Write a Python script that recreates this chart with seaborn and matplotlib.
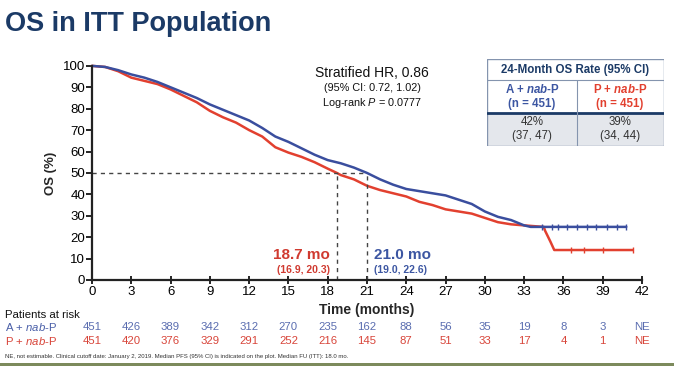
import numpy as np
import pandas as pd
import matplotlib
matplotlib.use("Agg")
import matplotlib.pyplot as plt
import matplotlib.transforms as mtransforms
from matplotlib.patches import Rectangle
import seaborn as sns

sns.set_theme(style="white")
plt.rcParams['font.family'] = ['Liberation Sans', 'DejaVu Sans']
plt.rcParams['mathtext.fontset'] = 'custom'
plt.rcParams['mathtext.rm'] = 'Liberation Sans'
plt.rcParams['mathtext.it'] = 'Liberation Sans:italic'
plt.rcParams['mathtext.bf'] = 'Liberation Sans:bold'
plt.rcParams['mathtext.bfit'] = 'Liberation Sans:italic:bold'

# KM curves (months, OS %)
a_time = [0, 1, 2, 3, 4, 5, 6, 7, 8, 9, 10, 11, 12, 13, 14, 15, 16, 17, 18, 19,
          20, 21, 22, 23, 24, 25, 26, 27, 28, 29, 30, 31, 32, 33, 33.5, 40.8]
a_os = [100, 99.5, 98, 96, 94.5, 92.5, 90, 87.5, 85, 82, 79.5, 77, 74.5, 71, 67, 64.5,
        61.5, 58.5, 56, 54.5, 52.5, 50, 47, 44.5, 42.5, 41.5, 40.5, 39.5, 37.5, 35.5,
        32, 29.5, 28, 25.5, 24.8, 24.8]
p_time = [0, 1, 2, 3, 4, 5, 6, 7, 8, 9, 10, 11, 12, 13, 14, 15, 16, 17, 18, 18.7,
          19, 20, 21, 22, 23, 24, 25, 26, 27, 28, 29, 30, 31, 32, 33, 34.5, 34.6,
          35.0, 35.3, 41.3]
p_os = [100, 99.5, 97.5, 94.5, 93, 91.5, 89, 86, 83, 79, 76, 73.5, 70, 67, 62, 59.5,
        57.5, 55, 52, 50, 49, 47, 44, 42, 40.5, 39, 36.5, 35, 33, 32, 31, 29, 27, 26,
        25.5, 24.8, 23, 18, 14, 14]

# censor marks on the tails
a_cens_t = [34.4, 35.1, 35.6, 36.3, 37.0, 37.8, 38.5, 39.3, 40.1, 40.8]
a_cens_s = [24.8] * len(a_cens_t)
p_cens_t = [36.6, 37.6, 39.0, 41.3]
p_cens_s = [14] * len(p_cens_t)

medians = {'P': 18.7, 'A': 21.0}

risk_times = [0, 3, 6, 9, 12, 15, 18, 21, 24, 27, 30, 33, 36, 39, 42]
risk_a = ['451', '426', '389', '342', '312', '270', '235', '162', '88', '56', '35', '19', '8', '3', 'NE']
risk_p = ['451', '420', '376', '329', '291', '252', '216', '145', '87', '51', '33', '17', '4', '1', 'NE']

blue = '#3A4E9E'
red = '#E2402F'
navy = '#1B3A66'

df = pd.concat([
    pd.DataFrame({'t': a_time, 'os': a_os, 'arm': 'A'}),
    pd.DataFrame({'t': p_time, 'os': p_os, 'arm': 'P'}),
])

fig = plt.figure(figsize=(6.74, 3.66), dpi=100)
ax = fig.add_axes([0.1365, 0.235, 0.816, 0.585])

sns.lineplot(data=df, x='t', y='os', hue='arm', palette={'A': blue, 'P': red},
             hue_order=['P', 'A'], estimator=None, sort=False, linewidth=1.8,
             legend=False, ax=ax, clip_on=False)
ax.plot(a_cens_t, a_cens_s, ls='none', marker='|', ms=4, mew=1.0, color=blue, clip_on=False)
ax.plot(p_cens_t, p_cens_s, ls='none', marker='|', ms=4, mew=1.0, color=red, clip_on=False)

# median lines
ax.plot([0, medians['A']], [50, 50], ls=(0, (3, 3)), color='#444444', lw=1)
for m in medians.values():
    ax.plot([m, m], [0, 50], ls=(0, (3, 3)), color='#444444', lw=1)

ax.set_xlim(0, 42)
ax.set_ylim(0, 100)
ax.set_xticks(risk_times)
ax.set_yticks(range(0, 101, 10))
ax.tick_params(axis='both', labelsize=9.5, colors='black', length=4, width=1.2, pad=1)
ax.tick_params(axis='x', direction='inout', length=6)
ax.tick_params(axis='y', direction='out', left=True)
ax.tick_params(axis='x', bottom=True)
for s in ['top', 'right']:
    ax.spines[s].set_visible(False)
for s in ['left', 'bottom']:
    ax.spines[s].set_color('#222222')
    ax.spines[s].set_linewidth(1.6)
ax.set_xlabel('')
ax.set_ylabel('OS (%)', fontsize=9.5, fontweight='bold', labelpad=4)

# median labels
ax.text(18.2, 11.5, '18.7 mo', color='#D03A30', fontsize=11, fontweight='bold', ha='right', va='center')
ax.text(18.2, 4.5, '(16.9, 20.3)', color='#D03A30', fontsize=7.5, fontweight='bold', ha='right', va='center')
ax.text(21.5, 11.5, '21.0 mo', color='#3C56A2', fontsize=11, fontweight='bold', ha='left', va='center')
ax.text(21.5, 4.5, '(19.0, 22.6)', color='#3C56A2', fontsize=7.5, fontweight='bold', ha='left', va='center')

# HR box text
ax.text(21.4, 96.5, 'Stratified HR, 0.86', fontsize=10, ha='center', va='center', color='#111111')
ax.text(21.4, 89.5, '(95% CI: 0.72, 1.02)', fontsize=7.8, ha='center', va='center', color='#111111')
ax.text(21.4, 82.5, r'Log-rank $\mathit{P}$ = 0.0777', fontsize=7.8, ha='center', va='center', color='#111111')

# x label and risk table
trans = mtransforms.blended_transform_factory(ax.transData, fig.transFigure)
ax.text(21, 0.153, 'Time (months)', transform=trans, fontsize=10, fontweight='bold', ha='center', va='center')
fig.text(0.008, 0.139, 'Patients at risk', fontsize=8.2, va='center', color='#111111')
fig.text(0.008, 0.106, r'A + $\mathit{nab}$-P', fontsize=8.2, va='center', color='#4A5FA8')
fig.text(0.008, 0.068, r'P + $\mathit{nab}$-P', fontsize=8.2, va='center', color='#D8453A')
for t, na, npp in zip(risk_times, risk_a, risk_p):
    ax.text(t, 0.106, na, transform=trans, fontsize=8.2, ha='center', va='center', color='#5A6DB0')
    ax.text(t, 0.068, npp, transform=trans, fontsize=8.2, ha='center', va='center', color='#D8453A')

fig.text(0.008, 0.025, 'NE, not estimable. Clinical cutoff date: January 2, 2019. Median PFS (95% CI) is indicated '
         'on the plot. Median FU (ITT): 18.0 mo.', fontsize=4.3, va='center', color='#333333')
fig.add_artist(Rectangle((0, 0), 1, 0.009, transform=fig.transFigure, color='#7C8A5C', lw=0))

# title
fig.text(0.008, 0.935, 'OS in ITT Population', fontsize=19.5, fontweight='bold', color=navy, va='center')

# 24-month OS rate table
tax = fig.add_axes([0.7226, 0.601, 0.2626, 0.2377])
tax.set_xlim(0, 177)
tax.set_ylim(87, 0)
tax.axis('off')
tax.add_patch(Rectangle((0, 54), 177, 33, color='#E4E7EC', lw=0))
tax.add_patch(Rectangle((0, 0), 177, 87, fill=False, ec='#8494AE', lw=1))
tax.plot([0, 177], [21, 21], color='#8494AE', lw=0.8)
tax.plot([0, 177], [54, 54], color=navy, lw=2)
tax.plot([90, 90], [21, 87], color='#8494AE', lw=0.8)
tax.text(88.5, 10.5, '24-Month OS Rate (95% CI)', fontsize=8.3, fontweight='bold', color=navy, ha='center', va='center')
tax.text(45, 30.5, r'A + $\mathbfit{nab}$-P', fontsize=8.3, fontweight='bold', color='#3C56A2', ha='center', va='center')
tax.text(45, 45, '(n = 451)', fontsize=8.3, fontweight='bold', color='#3C56A2', ha='center', va='center')
tax.text(133, 30.5, r'P + $\mathbfit{nab}$-P', fontsize=8.3, fontweight='bold', color='#E2402F', ha='center', va='center')
tax.text(133, 45, '(n = 451)', fontsize=8.3, fontweight='bold', color='#E2402F', ha='center', va='center')
tax.text(45, 63, '42%', fontsize=8.3, color='#333333', ha='center', va='center')
tax.text(45, 77, '(37, 47)', fontsize=8.3, color='#333333', ha='center', va='center')
tax.text(133, 63, '39%', fontsize=8.3, color='#333333', ha='center', va='center')
tax.text(133, 77, '(34, 44)', fontsize=8.3, color='#333333', ha='center', va='center')

fig.savefig('out.png', dpi=100)
